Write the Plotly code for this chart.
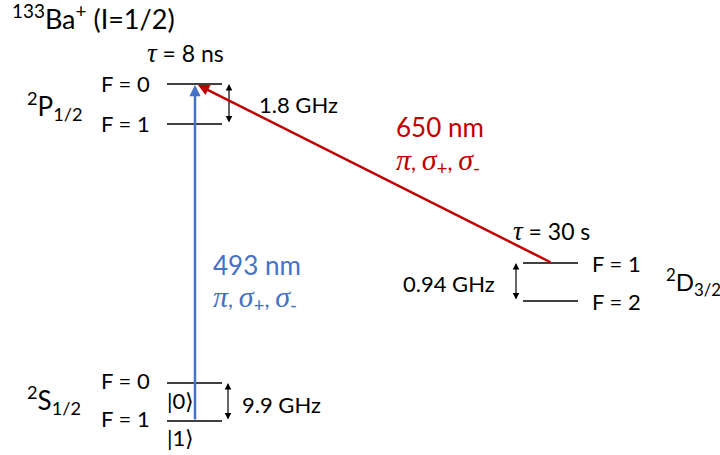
import plotly.graph_objects as go

# ---- data (diagram coordinates: x to the right, y downward, pixel-like units) ----
level_labels = ["F = 0", "F = 1", "F = 0", "F = 1", "F = 1", "F = 2"]
level_y = [84, 124, 383, 421, 263, 301]
level_x0 = [167, 167, 167, 167, 523, 523]
level_x1 = [222, 222, 222, 222, 578, 578]

term_labels = ["<sup>2</sup>P<sub>1/2</sub>", "<sup>2</sup>S<sub>1/2</sub>", "<sup>2</sup>D<sub>3/2</sub>"]
splittings = ["1.8 GHz", "9.9 GHz", "0.94 GHz"]
lifetimes = ["8 ns", "30 s"]
wavelengths = ["493 nm", "650 nm"]

BLUE = "#4472C4"
RED = "#C00000"
FONT = "Lato"
MATH = "<span style='font-family:Liberation Serif;font-style:italic;font-size:{}px'>{}</span>"
SUB = "<sub><span style='font-size:{}px'>{}</span></sub>"

fig = go.Figure()

# level lines
xs, ys = [], []
for x0, x1, y in zip(level_x0, level_x1, level_y):
    xs += [x0, x1, None]
    ys += [y, y, None]
fig.add_trace(go.Scatter(x=xs, y=ys, mode="lines", line=dict(color="black", width=1.5),
                         hoverinfo="skip", showlegend=False))

ann = []

def arrow(x, y, ax, ay, color, width, head=2, size=1.0, both=False):
    ann.append(dict(x=x, y=y, ax=ax, ay=ay, xref="x", yref="y", axref="x", ayref="y",
                    text="", showarrow=True, arrowhead=head, startarrowhead=head,
                    arrowsize=size, startarrowsize=size, arrowwidth=width, arrowcolor=color,
                    arrowside="end+start" if both else "end", standoff=0, startstandoff=0))

def text(x, y, s, size=22, color="black", xanchor="left", yanchor="middle"):
    ann.append(dict(x=x, y=y, xref="x", yref="y", text=s, showarrow=False,
                    font=dict(family=FONT, size=size, color=color),
                    xanchor=xanchor, yanchor=yanchor))

# splitting arrows (double headed)
arrow(229, level_y[0], 229, level_y[1], "black", 1.2, head=2, size=1.1, both=True)
arrow(228, level_y[2], 228, level_y[3], "black", 1.2, head=2, size=1.1, both=True)
arrow(516, level_y[4], 516, level_y[5], "black", 1.2, head=2, size=1.1, both=True)

# laser transitions
arrow(195, level_y[0] + 1, 195, level_y[3], BLUE, 2.5, head=2, size=0.9)
arrow(198, level_y[0] + 1, 552, level_y[4], RED, 2.5, head=2, size=0.9)

# level F labels
text(152, level_y[0] - 1, level_labels[0], xanchor="right")
text(152, level_y[1] - 1, level_labels[1], xanchor="right")
text(152, level_y[2] - 3, level_labels[2], xanchor="right")
text(152, level_y[3] - 3, level_labels[3], xanchor="right")
text(590, level_y[4], level_labels[4])
text(590, level_y[5], level_labels[5])

# term labels
text(25, 106, term_labels[0], size=26)
text(25, 400, term_labels[1], size=26)
text(664, 282, term_labels[2], size=24)

# splittings
text(257, 104, splittings[0])
text(240, 404, splittings[1])
text(497, 283, splittings[2], xanchor="right")

# lifetimes
tau = MATH.format(27, "τ")
text(185, 53, tau + " = " + lifetimes[0], xanchor="center", size=23)
text(551, 231, tau + " = " + lifetimes[1], xanchor="center", size=23)

# kets
text(180, 400, "|0⟩", xanchor="center")
text(180, 437, "|1⟩", xanchor="center")

# title
text(10, 17, "<sup>133</sup>Ba<sup>+</sup> (I=1/2)", size=27)

# transition labels
pol = (MATH.format(30, "π") + ", " + MATH.format(30, "σ") + SUB.format(19, "+") + ", "
       + MATH.format(30, "σ") + SUB.format(19, "-"))
text(211, 265, wavelengths[0], size=26, color=BLUE)
text(211, 298, pol, size=22, color=BLUE)
text(394, 127, wavelengths[1], size=26, color=RED)
text(394, 161, pol, size=22, color=RED)

fig.update_layout(
    width=720, height=455, margin=dict(l=0, r=0, t=0, b=0),
    paper_bgcolor="white", plot_bgcolor="white",
    xaxis=dict(range=[0, 720], visible=False, fixedrange=True),
    yaxis=dict(range=[455, 0], visible=False, fixedrange=True),
    annotations=ann,
)

fig.write_html("out.html")
